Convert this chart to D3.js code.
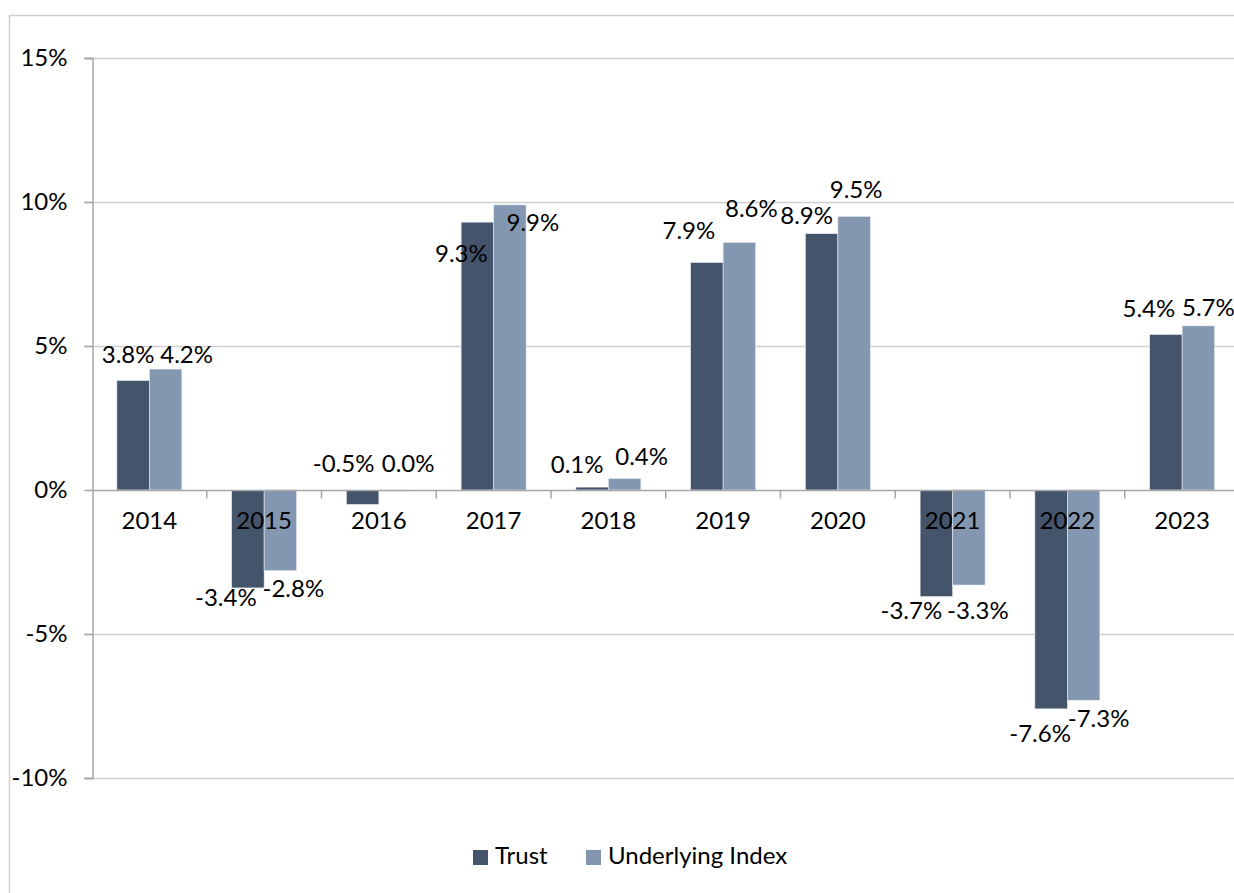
<!DOCTYPE html>
<html>
<head>
<meta charset="utf-8">
<script src="https://cdn.jsdelivr.net/npm/d3@7"></script>
<style>
  html, body { margin: 0; padding: 0; background: #fff; }
  svg { display: block; }
  text { font-family: Lato, "Open Sans", sans-serif; fill: #000; }
</style>
</head>
<body>
<svg id="chart" width="1234" height="893"></svg>
<script>
// ---- data ----
const years = ["2014","2015","2016","2017","2018","2019","2020","2021","2022","2023"];
const seriesNames = ["Trust", "Underlying Index"];
const trustValues = [3.8, -3.4, -0.5, 9.3, 0.1, 7.9, 8.9, -3.7, -7.6, 5.4];
const indexValues = [4.2, -2.8, 0.0, 9.9, 0.4, 8.6, 9.5, -3.3, -7.3, 5.7];
const yTicks = [-10, -5, 0, 5, 10, 15];

// ---- layout (label nudges, px, relative to bar centre / bar end) ----
const trustNudge = [[-5,-24],[-22,12],[-19,-38],[-16,34],[-15,-20],[-18,-30],[-15,-16],[-25,16],[-11,27],[-17,-24]];
const indexNudge = [[21,-12],[13,20],[13,-24],[23,20],[17,-20],[12,-31],[2,-24],[9,28],[15,21],[10,-16]];
const colors = ["#44546A", "#8497B0"];

(function () {
const svg = d3.select("#chart");
const fontSize = 24;

// outer chart border
svg.append("rect").attr("x", 9.5).attr("y", 15.5).attr("width", 1300).attr("height", 1000)
  .attr("fill", "none").attr("stroke", "#D0D0D0").attr("stroke-width", 1.5);

const pLeft = 92, pRight = 1239.5, pTop = 58, pBottom = 778;
const x = d3.scaleBand().domain(years).range([pLeft, pRight]);
const y = d3.scaleLinear().domain([-10, 15]).range([pBottom, pTop]);
const barW = 32.5;

// gridlines
svg.append("g").selectAll("line").data(yTicks.filter(t => t !== 0)).join("line")
  .attr("x1", pLeft - 8).attr("x2", 1300)
  .attr("y1", d => Math.round(y(d)) + 0.5).attr("y2", d => Math.round(y(d)) + 0.5)
  .attr("stroke", "#CFCFCF").attr("stroke-width", 1.5);

// y axis
const yAxis = d3.axisLeft(y).tickValues(yTicks).tickSize(8).tickFormat(d => d + "%");
const gy = svg.append("g").attr("transform", `translate(${pLeft + 0.5},0)`).call(yAxis);
gy.select(".domain").attr("stroke", "#A6A6A6").attr("stroke-width", 1.5);
gy.selectAll(".tick line").attr("stroke", "#A6A6A6").attr("stroke-width", 1.5);
gy.selectAll(".tick text").attr("x", -25).attr("font-size", fontSize)
  .attr("font-family", "Lato, sans-serif").attr("fill", "#000");

// bars
const data = years.map((yr, i) => ({yr, i, vals: [trustValues[i], indexValues[i]]}));
const groups = svg.append("g").selectAll("g").data(data).join("g");
groups.selectAll("rect").data(d => d.vals.map((v, s) => ({v, s, yr: d.yr}))).join("rect")
  .attr("x", d => x(d.yr) + x.bandwidth() / 2 - barW + d.s * barW)
  .attr("width", barW)
  .attr("y", d => Math.min(y(d.v), y(0)))
  .attr("height", d => Math.max(Math.abs(y(d.v) - y(0)), 1))
  .attr("fill", d => colors[d.s])
  .attr("stroke", "#E8ECF2").attr("stroke-width", 0.6);

// x axis (zero line) and ticks
const xAxisG = svg.append("g").attr("transform", `translate(0,${Math.round(y(0)) + 0.5})`);
xAxisG.append("line").attr("x1", pLeft).attr("x2", 1300).attr("stroke", "#A6A6A6").attr("stroke-width", 1.5);
xAxisG.selectAll("line.tk").data(years.slice(1)).join("line").attr("class", "tk")
  .attr("x1", d => x(d)).attr("x2", d => x(d)).attr("y1", 0).attr("y2", 8)
  .attr("stroke", "#A6A6A6").attr("stroke-width", 1.5);

// category labels
svg.append("g").selectAll("text").data(years).join("text")
  .attr("x", d => x(d) + x.bandwidth() / 2)
  .attr("y", y(0) + 33)
  .attr("text-anchor", "middle").attr("dominant-baseline", "middle")
  .attr("font-size", fontSize).text(d => d);

// value labels
const fmt = v => v.toFixed(1) + "%";
const labelData = [];
years.forEach((yr, i) => {
  [trustValues[i], indexValues[i]].forEach((v, s) => {
    const nudge = s === 0 ? trustNudge[i] : indexNudge[i];
    labelData.push({
      x: x(yr) + x.bandwidth() / 2 + (s === 0 ? -barW / 2 : barW / 2) + nudge[0],
      y: y(v) + nudge[1],
      t: fmt(v)
    });
  });
});
svg.append("g").selectAll("text").data(labelData).join("text")
  .attr("x", d => d.x).attr("y", d => d.y)
  .attr("text-anchor", "middle").attr("dominant-baseline", "middle")
  .attr("font-size", fontSize).text(d => d.t);

// legend
const legend = svg.append("g");
const legendItems = [{name: seriesNames[0], x: 473}, {name: seriesNames[1], x: 586}];
legendItems.forEach((it, i) => {
  legend.append("rect").attr("x", it.x).attr("y", 850).attr("width", 15).attr("height", 15).attr("fill", colors[i]);
  legend.append("text").attr("x", it.x + 22).attr("y", 858)
    .attr("dominant-baseline", "middle").attr("font-size", fontSize).text(it.name);
});
})();
</script>
</body>
</html>
